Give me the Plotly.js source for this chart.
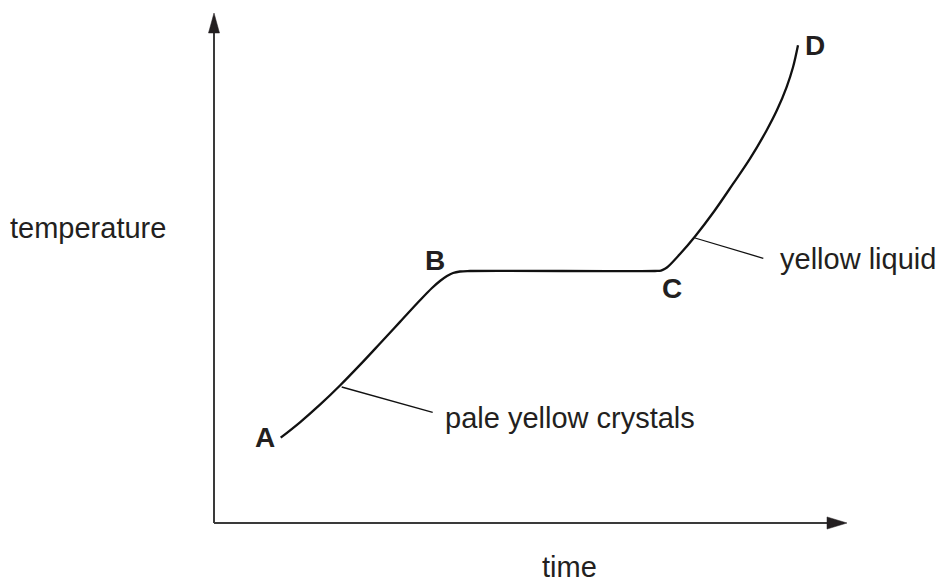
<!DOCTYPE html>
<html>
<head>
<meta charset="utf-8">
<script src="https://cdn.plot.ly/plotly-3.0.1.min.js"></script>
<style>html,body{margin:0;padding:0;background:#fff;}#chart{width:938px;height:578px;}</style>
</head>
<body>
<div id="chart"></div>
<script>
// Heating curve: time vs temperature (arbitrary units)
const curveTime = [6.67, 8.6, 10.6, 12.6, 14.6, 16.6, 18.6, 20.6, 21.8, 22.6, 23.3, 23.9, 24.6, 25.6,
                   44.1, 44.7, 45.1, 45.4, 46.6, 48.1, 50.0, 51.9, 53.6, 55.27, 56.3, 57.27, 57.9, 58.4];
const curveTemp = [8.53, 10.07, 11.83, 13.75, 15.81, 17.95, 20.11, 22.27, 23.5, 24.2, 24.7, 25.0, 25.15, 25.2,
                   25.2, 25.24, 25.42, 25.63, 26.89, 28.65, 31.15, 33.91, 36.44, 39.28, 41.29, 43.62, 45.57, 47.77];

const pointLabels = ["A", "B", "C", "D"];
const pointLabelTime = [5.1, 22.1, 45.8, 60.1];
const pointLabelTemp = [8.55, 26.3, 23.5, 47.8];

const stateLabels = ["pale yellow crystals", "yellow liquid"];
const leaderFromTime = [12.77, 48.1];
const leaderFromTemp = [13.6, 28.5];
const leaderToTime = [21.87, 54.93];
const leaderToTemp = [11.07, 26.47];

const axisTitles = {x: "time", y: "temperature"};
const timeAxisEnd = 63.3;
const tempAxisEnd = 51.0;

// view settings (10 px per unit)
const xRange = [-21.4, 72.4];
const yRange = [-5.5, 52.3];
const pxPerUnit = 10;
const headLen = 20 / pxPerUnit, headHalf = 5.5 / pxPerUnit;

const ink = '#231f20';
const traces = [];

// axes lines
traces.push({x: [0, 0], y: [0, tempAxisEnd - headLen], mode: 'lines', line: {color: '#3a3a3a', width: 2}, hoverinfo: 'skip'});
traces.push({x: [0, timeAxisEnd - headLen], y: [0, 0], mode: 'lines', line: {color: '#3a3a3a', width: 2}, hoverinfo: 'skip'});
// arrowheads
traces.push({x: [-headHalf, headHalf, 0, -headHalf], y: [tempAxisEnd - headLen, tempAxisEnd - headLen, tempAxisEnd, tempAxisEnd - headLen],
  mode: 'lines', fill: 'toself', fillcolor: ink, line: {color: ink, width: 0.5}, hoverinfo: 'skip'});
traces.push({x: [timeAxisEnd - headLen, timeAxisEnd - headLen, timeAxisEnd, timeAxisEnd - headLen], y: [-headHalf * 1.1, headHalf * 1.1, 0, -headHalf * 1.1],
  mode: 'lines', fill: 'toself', fillcolor: ink, line: {color: ink, width: 0.5}, hoverinfo: 'skip'});

// curve
traces.push({x: curveTime, y: curveTemp, mode: 'lines', line: {color: '#111', width: 2.3, shape: 'spline', smoothing: 1}, hoverinfo: 'skip'});

// leader lines
for (let i = 0; i < stateLabels.length; i++) {
  traces.push({x: [leaderFromTime[i], leaderToTime[i]], y: [leaderFromTemp[i], leaderToTemp[i]], mode: 'lines', line: {color: '#111', width: 1.3}, hoverinfo: 'skip'});
}

const annotations = [];
const font = {family: 'Liberation Sans, Arial, Helvetica, sans-serif', size: 29, color: ink};
for (let i = 0; i < pointLabels.length; i++) {
  annotations.push({x: pointLabelTime[i], y: pointLabelTemp[i], xref: 'x', yref: 'y', text: '<b>' + pointLabels[i] + '</b>', showarrow: false,
    xanchor: 'center', yanchor: 'middle', font: {family: font.family, size: 28, color: ink}});
}
const stateLabelTime = [leaderToTime[0] + 1.05, leaderToTime[1] + 1.5];
const stateLabelTemp = [leaderToTemp[0] - 0.55, leaderToTemp[1] - 0.05];
for (let i = 0; i < stateLabels.length; i++) {
  annotations.push({x: stateLabelTime[i], y: stateLabelTemp[i], xref: 'x', yref: 'y', text: stateLabels[i], showarrow: false,
    xanchor: 'left', yanchor: 'middle', font: font});
}
annotations.push({x: -12.6, y: 29.5, xref: 'x', yref: 'y', text: axisTitles.y, showarrow: false, xanchor: 'center', yanchor: 'middle', font: font});
annotations.push({x: 35.5, y: -4.35, xref: 'x', yref: 'y', text: axisTitles.x, showarrow: false, xanchor: 'center', yanchor: 'middle', font: font, borderpad: 0});

const layout = {
  width: 938, height: 578,
  margin: {l: 0, r: 0, t: 0, b: 0},
  paper_bgcolor: '#fff', plot_bgcolor: '#fff',
  showlegend: false,
  xaxis: {range: xRange, visible: false, fixedrange: true},
  yaxis: {range: yRange, visible: false, fixedrange: true},
  annotations: annotations
};
Plotly.newPlot('chart', traces, layout, {staticPlot: true, displayModeBar: false});
</script>
</body>
</html>
